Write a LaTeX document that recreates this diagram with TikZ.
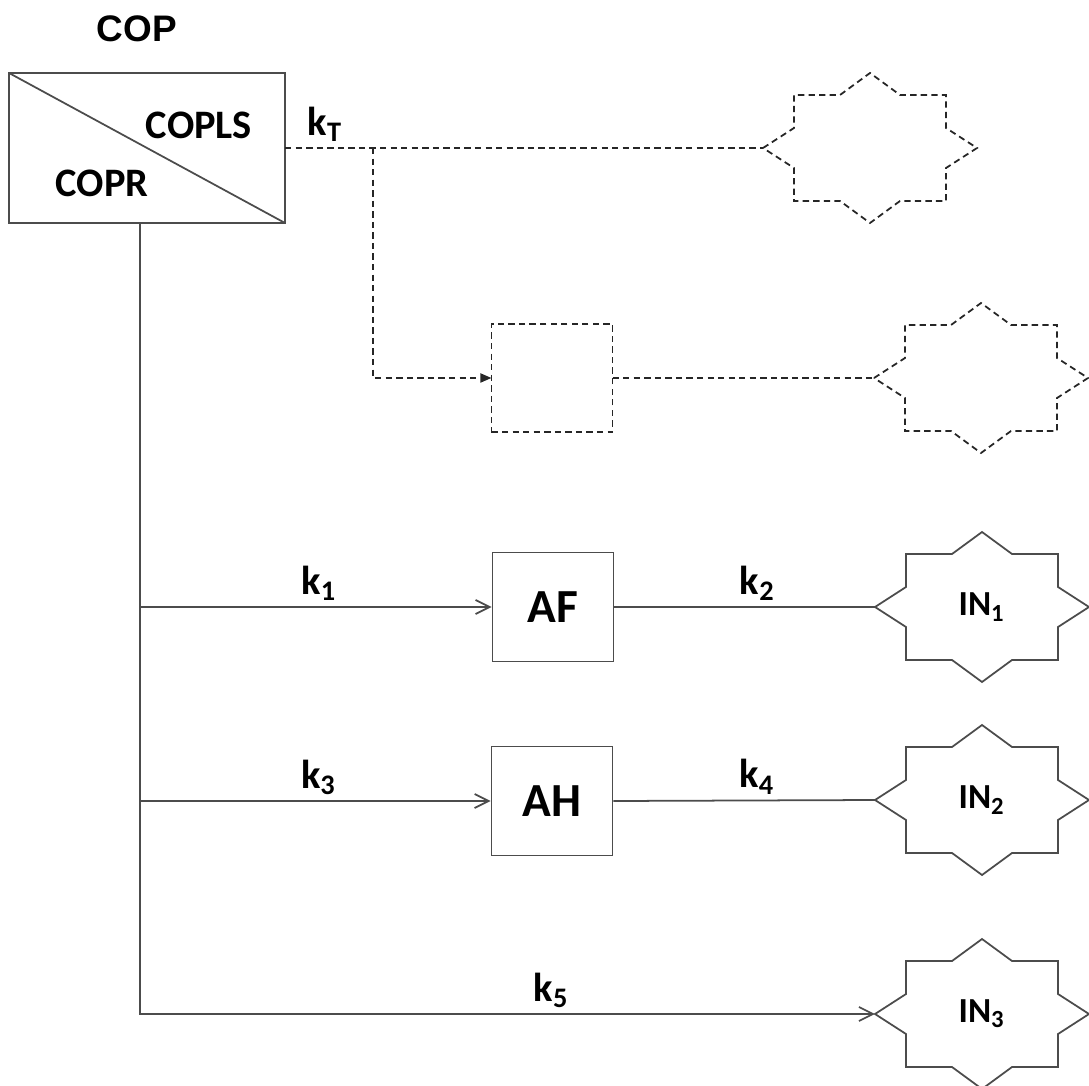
\documentclass[tikz,border=0pt]{standalone}
\usepackage{fontspec}
\newfontfamily\carlito{Carlito}
\newfontfamily\arialsans{Liberation Sans}
\usepackage{tikz}
\usetikzlibrary{arrows.meta,calc}

\newcommand{\starrim}[2][]{%
  \draw[#1,shift={(#2.center)}] (-107,0) -- (-76,-20) -- (-76,-53) -- (-30,-53) -- (0,-75) -- (30,-53) -- (76,-53) -- (76,-20) -- (107,0) -- (76,20) -- (76,53) -- (30,53) -- (0,75) -- (-30,53) -- (-76,53) -- (-76,20) -- cycle;}

\begin{document}
\begin{tikzpicture}[x=0.01cm,y=-0.01cm,
  ln/.style={draw=black!70,line width=0.5pt},
  dl/.style={draw=black!85,line width=0.5pt,dash pattern=on 1.8pt off 1.2pt},
  ar/.style={ln,-{Straight Barb[length=1.4mm,width=1.4mm]}},
  bx/.style={ln,minimum width=1.21cm,minimum height=1.09cm,inner sep=0pt,font=\carlito\bfseries\fontsize{13.5}{14}\selectfont},
  st/.style={minimum width=2.14cm,minimum height=1.5cm,inner sep=0pt,outer sep=0pt,font=\carlito\bfseries\fontsize{10}{12}\selectfont},
  lab/.style={inner sep=1.5pt,font=\carlito\bfseries\fontsize{11.5}{13}\selectfont}]
  \useasboundingbox (0,0) rectangle (1089,1086);
  % source
  \node[font=\arialsans\bfseries\fontsize{10.5}{12}\selectfont] (ttl) at (137,29) {COP};
  \node[ln,minimum width=2.76cm,minimum height=1.5cm,inner sep=0pt,outer sep=0pt] (cop) at (147,148) {};
  \draw[ln] (cop.north west) -- (cop.south east);
  \node[lab] (ls) at (199,125) {COPLS};
  \node[lab] (pr) at (102,183) {COPR};
  % dashed branch
  \node[st] (s1) at (870,148) {};
  \node[dl,minimum width=1.21cm,minimum height=1.08cm,outer sep=0pt] (ob) at (552,378) {};
  \node[st] (s2) at (981,378) {};
  \coordinate (br) at (373,148);
  \draw[dl] (cop.east) -- node[lab,above,pos=0.084] {k\textsubscript{T}} (s1.west);
  \draw[dl,-{Triangle[length=1.1mm,width=0.9mm]}] (br) |- (ob.west);
  \draw[dl] (ob.east) -- (s2.west);
  \starrim[dl]{s1}
  \starrim[dl]{s2}
  % solid branches
  \node[bx] (af) at (553,607) {AF};
  \node[bx] (ah) at (552,801) {AH};
  \node[st] (in1) at (982,607) {IN\textsubscript{1}};
  \node[st] (in2) at (982,800) {IN\textsubscript{2}};
  \node[st] (in3) at (982,1014) {IN\textsubscript{3}};
  \coordinate (t0) at (140,223);
  \draw[ar] (t0) |- node[lab,above,pos=0.78] {k\textsubscript{5}} (in3.west);
  \draw[ar] (t0 |- af.west) -- node[lab,above,pos=0.51] {k\textsubscript{1}} (af.west);
  \draw[ln] (af.east) -- node[lab,above,pos=0.55] {k\textsubscript{2}} (in1.west);
  \draw[ar] (t0 |- ah.west) -- node[lab,above,pos=0.51] {k\textsubscript{3}} (ah.west);
  \draw[ln] (ah.east) -- node[lab,above,pos=0.55] {k\textsubscript{4}} (in2.west);
  \foreach \s in {in1,in2,in3} {\starrim[ln]{\s}}
\end{tikzpicture}
\end{document}
